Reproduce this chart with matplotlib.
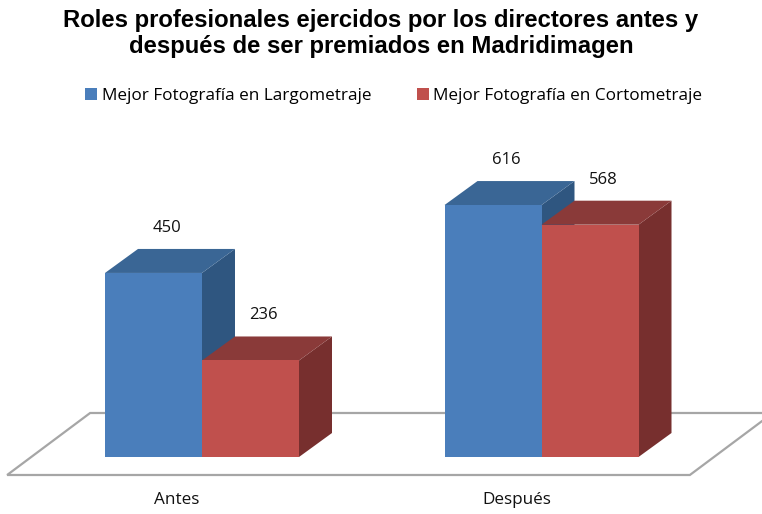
import matplotlib
matplotlib.use("Agg")
import matplotlib.pyplot as plt
from matplotlib.patches import Polygon, Patch

categories = ["Antes", "Después"]
series_names = ["Mejor Fotografía en Largometraje", "Mejor Fotografía en Cortometraje"]
largometraje = [450, 616]
cortometraje = [236, 568]
values = [largometraje, cortometraje]

front_colors = ["#4A7EBB", "#C0504D"]
top_colors = ["#3A6695", "#8A3A39"]
side_colors = ["#2F5680", "#772F2E"]

FONT = "Open Sans"

W, H = 762, 514
fig = plt.figure(figsize=(W / 100, H / 100), dpi=100)
ax = fig.add_axes([0, 0, 1, 1])
ax.set_axis_off()

px_per_unit_y = 0.409
base_px = 57
px_per_cat = 339.5
c0 = 202
ax.set_xlim(-c0 / px_per_cat, (W - c0) / px_per_cat)
ax.set_ylim(-base_px / px_per_unit_y, (H - base_px) / px_per_unit_y)

bw = 97 / px_per_cat
ddx = 33 / px_per_cat
ddy = 24 / px_per_unit_y

# floor
fl_front_y = -44
fl_back_y = 107.6
fl_x0 = -0.574
fl_x1 = 1.437
fl_dx = 83 / px_per_cat
floor = Polygon([(fl_x0, fl_front_y), (fl_x1, fl_front_y),
                 (fl_x1 + fl_dx, fl_back_y), (fl_x0 + fl_dx, fl_back_y)],
                closed=True, facecolor="white", edgecolor="#A6A6A6", lw=1.6, zorder=1)
ax.add_patch(floor)

label_shift = 25 / px_per_cat
for ci, cat in enumerate(categories):
    for si in range(2):
        v = values[si][ci]
        x0 = ci - bw + si * bw
        x1 = x0 + bw
        front = Polygon([(x0, 0), (x1, 0), (x1, v), (x0, v)], closed=True,
                        facecolor=front_colors[si], edgecolor="none", zorder=2 + si)
        top = Polygon([(x0, v), (x1, v), (x1 + ddx, v + ddy), (x0 + ddx, v + ddy)],
                      closed=True, facecolor=top_colors[si], edgecolor="none", zorder=2 + si)
        side = Polygon([(x1, 0), (x1 + ddx, ddy), (x1 + ddx, v + ddy), (x1, v)],
                       closed=True, facecolor=side_colors[si], edgecolor="none", zorder=2 + si)
        for p in (side, top, front):
            ax.add_patch(p)
        ax.text((x0 + x1) / 2 + ddx * 0.4, v + ddy + 21 / px_per_unit_y, str(v),
                ha="center", va="center", fontsize=12, family=FONT, color="#111111", zorder=10)
    ax.text(ci - label_shift, -104, cat, ha="center", va="center",
            fontsize=12.3, family=FONT, color="#111111")

fig.text(0.5, 1 - 20 / H, "Roles profesionales ejercidos por los directores antes y",
         ha="center", va="center", fontsize=17.2, fontweight="bold", family="Liberation Sans")
fig.text(0.5, 1 - 47 / H, "después de ser premiados en Madridimagen",
         ha="center", va="center", fontsize=17.2, fontweight="bold", family="Liberation Sans")

handles = [Patch(facecolor=front_colors[i], edgecolor="none") for i in range(2)]
fig.legend(handles, series_names, loc="center", bbox_to_anchor=(0.517, 1 - 96 / H), ncol=2,
           frameon=False, prop={"family": FONT, "size": 12.3}, handlelength=0.7,
           handleheight=0.7, handletextpad=0.25, columnspacing=2.7)

fig.savefig("out.png", dpi=100)
